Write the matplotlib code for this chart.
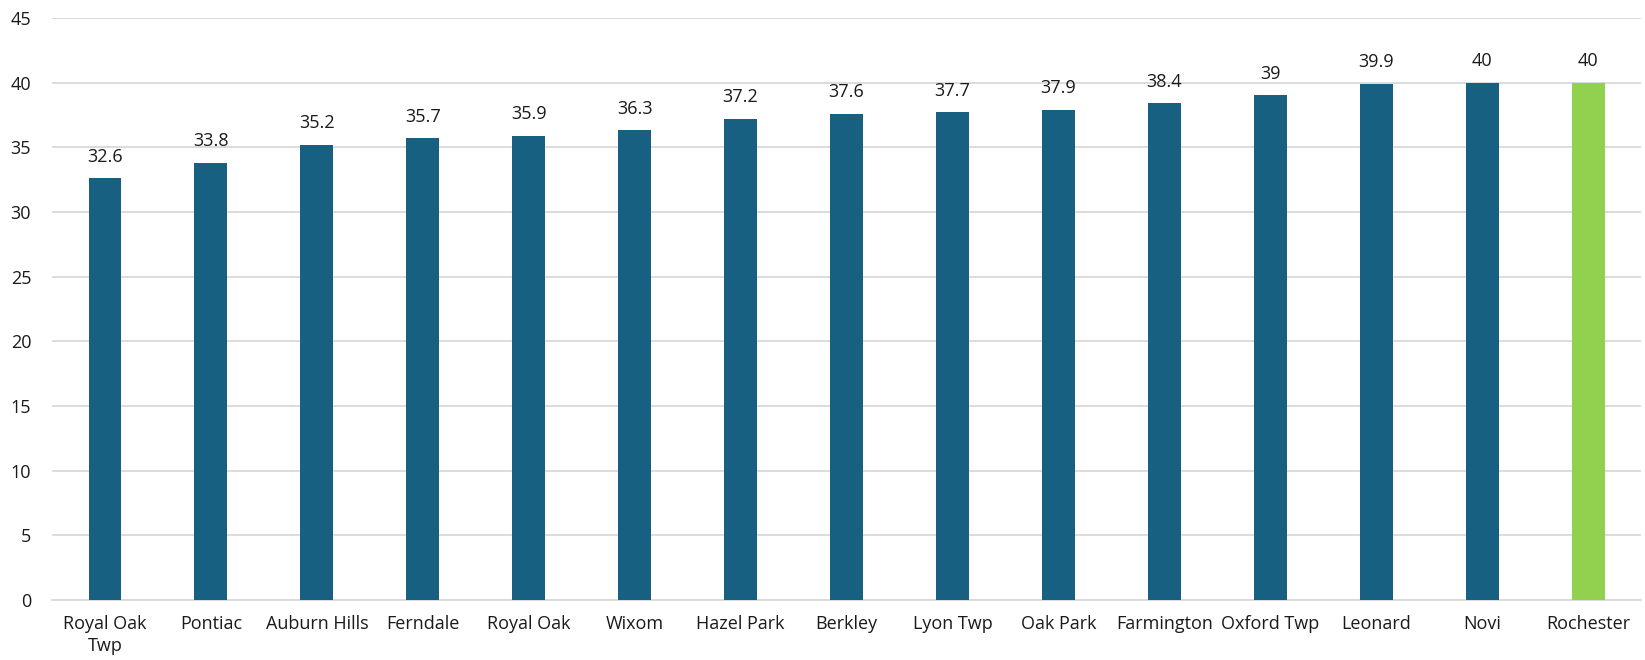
import matplotlib.pyplot as plt
import numpy as np

# median age by community
places = ['Royal Oak\nTwp', 'Pontiac', 'Auburn Hills', 'Ferndale', 'Royal Oak',
          'Wixom', 'Hazel Park', 'Berkley', 'Lyon Twp', 'Oak Park',
          'Farmington', 'Oxford Twp', 'Leonard', 'Novi', 'Rochester']
ages = [32.6, 33.8, 35.2, 35.7, 35.9, 36.3, 37.2, 37.6, 37.7, 37.9,
        38.4, 39, 39.9, 40, 40]
highlight = 'Rochester'

plt.rcParams['font.family'] = ['Open Sans', 'DejaVu Sans']

fig = plt.figure(figsize=(16.45, 6.6), dpi=100)
ax = fig.add_axes([0.0316, 0.091, 0.966, 0.882])

colors = ['#92d050' if p == highlight else '#176082' for p in places]
x = np.arange(len(places))
bars = ax.bar(x, ages, width=0.31, color=colors, zorder=3)

for b, v in zip(bars, ages):
    ax.annotate(f'{v:g}', (b.get_x() + b.get_width() / 2, v),
                xytext=(0, 9), textcoords='offset points',
                ha='center', va='bottom', fontsize=13, color='#1a1a1a')

ax.set_xlim(-0.5, len(places) - 0.5)
ax.set_ylim(0, 45)
ax.set_yticks(range(0, 46, 5))
ax.set_xticks(x)
ax.set_xticklabels(places, fontsize=13, color='#1a1a1a', linespacing=1.3)
ax.tick_params(axis='y', labelsize=13, labelcolor='#1a1a1a', length=0, pad=15)
ax.tick_params(axis='x', length=0, pad=11)

ax.grid(axis='y', color='#d9d9d9', linewidth=1.3, zorder=0)
for s in ['top', 'right', 'left']:
    ax.spines[s].set_visible(False)
ax.spines['bottom'].set_color('#d9d9d9')
ax.spines['bottom'].set_linewidth(1.3)

fig.savefig('out.png', dpi=100)
